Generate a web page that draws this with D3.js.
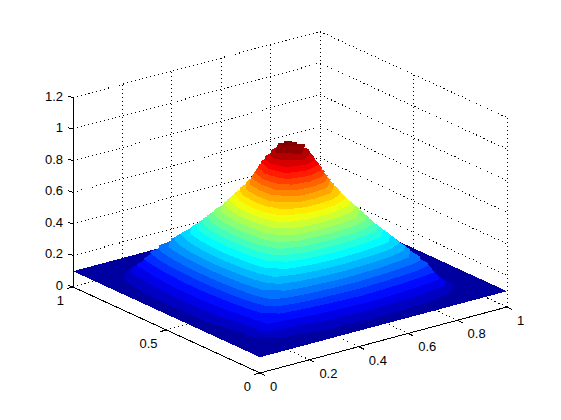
<!DOCTYPE html>
<html lang="en">
<head>
<meta charset="UTF-8"/>
<title>Surface plot</title>
<script src="https://d3js.org/d3.v7.min.js"></script>
<style>
  body { margin: 0; background: #fff; }
  svg { display: block; }
  text { font-family: "Liberation Sans", Arial, sans-serif; font-size: 13px; fill: #000; }
</style>
</head>
<body>
<div id="chart"></div>
<script>
// tick values
var xTicks = [0, 0.2, 0.4, 0.6, 0.8, 1];
var yTicks = [0, 0.5, 1];
var zTicks = [0, 0.2, 0.4, 0.6, 0.8, 1, 1.2];

// surface heights, rows run along y, columns along x
var zRows = [
  [.10,.10,.10,.10,.10,.10,.10,.10,.10,.10,.10,.10,.10,.10,.10,.10,.10],
  [.10,.12,.125,.13,.14,.15,.155,.16,.16,.16,.155,.15,.14,.13,.12,.105,.10],
  [.10,.125,.19,.20,.21,.22,.225,.23,.235,.23,.225,.22,.21,.20,.13,.105,.10],
  [.10,.13,.20,.27,.30,.315,.325,.335,.335,.33,.325,.31,.30,.27,.125,.105,.10],
  [.10,.14,.21,.30,.375,.41,.43,.44,.445,.44,.43,.415,.375,.29,.125,.105,.10],
  [.10,.15,.22,.315,.41,.50,.56,.57,.58,.57,.55,.50,.41,.31,.125,.105,.10],
  [.10,.155,.225,.325,.43,.56,.65,.72,.73,.71,.65,.55,.43,.32,.12,.105,.10],
  [.10,.16,.23,.33,.44,.57,.72,.87,.94,.87,.71,.57,.44,.33,.125,.105,.10],
  [.10,.16,.23,.335,.445,.58,.73,.94,1.0,.94,.73,.58,.445,.335,.13,.11,.10],
  [.10,.16,.23,.33,.44,.57,.71,.87,.94,.87,.72,.57,.44,.33,.15,.11,.10],
  [.10,.155,.225,.325,.43,.55,.65,.72,.73,.72,.65,.56,.43,.325,.21,.13,.10],
  [.10,.15,.22,.315,.41,.50,.55,.57,.58,.57,.56,.50,.41,.315,.22,.15,.10],
  [.10,.14,.21,.30,.375,.41,.43,.44,.445,.44,.43,.41,.375,.30,.21,.14,.10],
  [.10,.13,.20,.27,.30,.315,.325,.33,.335,.33,.325,.315,.30,.27,.20,.13,.10],
  [.10,.12,.125,.125,.13,.15,.20,.23,.23,.23,.225,.22,.21,.20,.19,.125,.10],
  [.10,.105,.105,.105,.11,.11,.12,.15,.16,.16,.155,.15,.14,.13,.125,.12,.10],
  [.10,.10,.10,.10,.10,.10,.10,.10,.10,.10,.10,.10,.10,.10,.10,.10,.10]
];

var width = 561;
var height = 420;
var n = zRows.length;

const svg = d3.select("#chart").append("svg")
  .attr("width", width)
  .attr("height", height);

// screen position of the box: each data axis adds its own pixel offset
var xToPx = d3.scaleLinear().domain([0, 1]).range([260, 507]);
var xToPy = d3.scaleLinear().domain([0, 1]).range([373, 307]);
var yToPx = d3.scaleLinear().domain([0, 1]).range([0, -187]);
var yToPy = d3.scaleLinear().domain([0, 1]).range([0, -86]);
var zToPy = d3.scaleLinear().domain([0, 1.2]).range([0, -189.5]);

function project(x, y, z) {
  return [xToPx(x) + yToPx(y), xToPy(x) + yToPy(y) + zToPy(z)];
}

// contour grid coords to data coords (grid values sit at cell centres)
var gridToData = d3.scaleLinear().domain([0.5, n - 0.5]).range([0, 1]).clamp(true);

var jet = d3.scaleLinear()
  .domain([0, 0.111, 0.365, 0.619, 0.873, 1])
  .range(["rgb(0,0,143)", "rgb(0,0,255)", "rgb(0,255,255)", "rgb(255,255,0)", "rgb(255,0,0)", "rgb(128,0,0)"]);
var colorT = d3.scaleLinear().domain([0.1, 0.97]).range([0, 1]).clamp(true);

function seg(a, b) {
  return svg.append("line")
    .attr("x1", a[0]).attr("y1", a[1])
    .attr("x2", b[0]).attr("y2", b[1])
    .attr("stroke", "#000")
    .attr("shape-rendering", "crispEdges");
}

function dotted(a, b) {
  seg(a, b).attr("stroke-dasharray", "1 3");
}

// grid on the back walls and floor
zTicks.forEach(function(z) {
  dotted(project(0, 1, z), project(1, 1, z));
  dotted(project(1, 1, z), project(1, 0, z));
});
xTicks.forEach(function(x) {
  dotted(project(x, 0, 0), project(x, 1, 0));
  if (x > 0) dotted(project(x, 1, 0), project(x, 1, 1.2));
});
yTicks.forEach(function(y) {
  dotted(project(0, y, 0), project(1, y, 0));
  if (y < 1) dotted(project(1, y, 0), project(1, y, 1.2));
});

// axis lines
seg(project(0, 0, 0), project(1, 0, 0));
seg(project(0, 0, 0), project(0, 1, 0));
seg(project(0, 1, 0), project(0, 1, 1.2));

// ticks and labels
xTicks.forEach(function(x) {
  var p = project(x, 0, 0);
  seg(p, [p[0] + 5, p[1] + 2.5]);
  svg.append("text").attr("x", p[0] + 10).attr("y", p[1] + 18).text(x);
});
yTicks.forEach(function(y) {
  var p = project(0, y, 0);
  seg(p, [p[0] - 6, p[1] + 1.5]);
  svg.append("text").attr("x", p[0] - 9).attr("y", p[1] + 18)
    .attr("text-anchor", "end").text(y);
});
zTicks.forEach(function(z) {
  var p = project(0, 1, z);
  seg(p, [p[0] - 5, p[1] - 1.5]);
  svg.append("text").attr("x", p[0] - 10).attr("y", p[1] + 3)
    .attr("text-anchor", "end").text(z);
});

// the surface as stacked filled contours, lowest first
var levels = d3.range(30).map(function(i) { return 0.1 + i * 0.9 / 30; });
var bands = d3.contours()
  .size([n, n])
  .thresholds(levels)(zRows.flat());

var line = d3.line();
svg.append("g").selectAll("path")
  .data(bands)
  .enter()
  .append("path")
  .attr("shape-rendering", "crispEdges")
  .attr("fill", function(d) { return jet(colorT(d.value + 0.45 / 30)); })
  .attr("d", function(d) {
    return d.coordinates.map(function(poly) {
      return poly.map(function(ring) {
        return line(ring.map(function(c) {
          return project(gridToData(c[0]), gridToData(c[1]), d.value);
        })) + "Z";
      }).join("");
    }).join("");
  });
</script>
</body>
</html>
